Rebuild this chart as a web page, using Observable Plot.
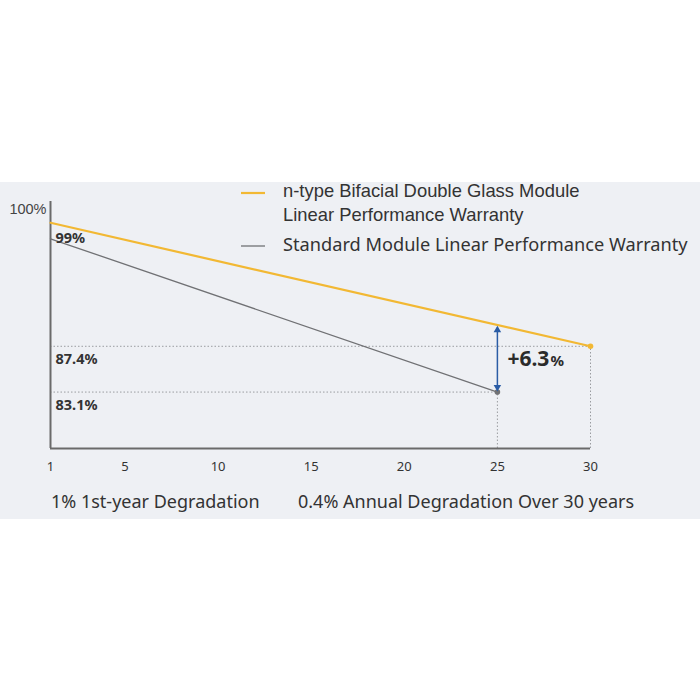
<!DOCTYPE html>
<html>
<head>
<meta charset="utf-8">
<script src="https://cdn.jsdelivr.net/npm/d3@7"></script>
<script src="https://cdn.jsdelivr.net/npm/@observablehq/plot@0.6"></script>
<style>
  html, body { margin: 0; padding: 0; background: #ffffff; width: 700px; height: 700px; overflow: hidden; }
  #chart { position: absolute; left: 0; top: 182px; }
</style>
</head>
<body>
<div id="chart"></div>
<script>
// Warranty curves: year and guaranteed output (% of nominal power)
const bifacialYears = [1, 30];
const bifacialPower = [99, 87.4];
const standardYears = [1, 25];
const standardPower = [97.5, 83.1];

// Bifacial value at year 25 (99% − 24 × 0.4%)
const compareYear = 25;
const bifacialAt25 = 89.4;
const gainLabel = "+6.3";

const xTicks = [1, 5, 10, 15, 20, 25, 30];
const yTicks = [100];

const seriesNames = [
  ["n-type Bifacial Double Glass Module", "Linear Performance Warranty"],
  ["Standard Module Linear Performance Warranty"]
];
const footNotes = ["1% 1st-year Degradation", "0.4% Annual Degradation Over 30 years"];

const yellow = "#f2b833";
const grey = "#707174";
const blue = "#2a5ca5";
const panel = "#eef0f4";

const bifacial = bifacialYears.map((y, i) => ({year: y, power: bifacialPower[i]}));
const standard = standardYears.map((y, i) => ({year: y, power: standardPower[i]}));

const font = "'Noto Sans', sans-serif";
const arial = "'Liberation Sans', Arial, sans-serif";
const guide = {stroke: "#9a9ca0", strokeDasharray: "1.5,2", strokeWidth: 1};

const chart = Plot.plot({
  width: 700,
  height: 337,
  marginLeft: 50,
  marginRight: 110,
  marginTop: 19,
  marginBottom: 71,
  style: {background: panel, fontFamily: font, overflow: "visible"},
  x: {domain: [1, 30], axis: null},
  y: {domain: [77.8, 101], axis: null},
  marks: [
    // dotted guides
    Plot.ruleY([bifacialPower[1]], {x1: 1, x2: 30, ...guide}),
    Plot.ruleY([standardPower[1]], {x1: 1, x2: compareYear, ...guide}),
    Plot.ruleX([compareYear], {y1: 77.8, y2: standardPower[1], ...guide}),
    Plot.ruleX([30], {y1: 77.8, y2: bifacialPower[1], ...guide}),
    // axes
    Plot.ruleX([1], {y1: 77.8, y2: 101, stroke: "#6a6a6a", strokeWidth: 2}),
    Plot.ruleY([77.8], {x1: 1, x2: 30, stroke: "#6a6a6a", strokeWidth: 2}),
    Plot.text(xTicks, {x: d => d, y: 77.8, dy: 18, text: d => String(d), fill: "#333", fontSize: 13, fontFamily: font}),
    Plot.text(yTicks, {x: 1, y: d => d, dx: -4, dy: -3, textAnchor: "end", text: d => d + "%", fill: "#444", fontSize: 14.5, fontFamily: arial}),
    // warranty lines
    Plot.line(standard, {x: "year", y: "power", stroke: grey, strokeWidth: 1.3}),
    Plot.line(bifacial, {x: "year", y: "power", stroke: yellow, strokeWidth: 2.2}),
    Plot.dot([standard[1]], {x: "year", y: "power", r: 2.8, fill: grey}),
    Plot.dot([bifacial[1]], {x: "year", y: "power", r: 2.8, fill: yellow}),
    // value labels
    Plot.text([bifacialPower[0]], {x: 1, y: d => d, dx: 5, dy: 16, textAnchor: "start", text: d => d + "%", fill: "#333", fontWeight: "bold", fontSize: 14.5, fontFamily: font}),
    Plot.text([bifacialPower[1], standardPower[1]], {x: 1, y: d => d, dx: 5, dy: 13, textAnchor: "start", text: d => d + "%", fill: "#333", fontWeight: "bold", fontSize: 14.5, fontFamily: font}),
    // gain arrow: shaft plus two filled heads
    Plot.ruleX([compareYear], {y1: bifacialAt25, y2: standardPower[1], stroke: blue, strokeWidth: 1.5, insetTop: 3, insetBottom: 3}),
    Plot.dot([bifacialAt25], {x: compareYear, y: d => d, dy: 5, symbol: "triangle2", r: 3.6, fill: blue}),
    Plot.dot([standardPower[1]], {x: compareYear, y: d => d, dy: -5, symbol: "triangle2", r: 3.6, rotate: 180, fill: blue}),
    Plot.text([gainLabel], {x: compareYear, y: (bifacialAt25 + standardPower[1]) / 2, dx: 10, dy: 1, textAnchor: "start", text: d => d, fill: "#2b2b2b", fontWeight: "bold", fontSize: 21, fontFamily: font}),
    Plot.text(["%"], {x: compareYear, y: (bifacialAt25 + standardPower[1]) / 2, dx: 53, dy: 3, textAnchor: "start", text: d => d, fill: "#2b2b2b", fontWeight: "bold", fontSize: 15, fontFamily: font})
  ]
});

// Legend and footnotes drawn into the same SVG
const svg = d3.select(chart);
const g = svg.append("g").attr("text-anchor", "start");
g.append("line").attr("x1", 241).attr("x2", 265).attr("y1", 11).attr("y2", 11)
  .attr("stroke", yellow).attr("stroke-width", 2.2);
g.append("line").attr("x1", 241).attr("x2", 265).attr("y1", 64).attr("y2", 64)
  .attr("stroke", grey).attr("stroke-width", 1.3);
g.selectAll("text.l1").data(seriesNames[0]).join("text")
  .attr("x", 283).attr("y", (d, i) => 15 + i * 24)
  .attr("font-family", arial).attr("font-size", 18.4)
  .attr("fill", "#333").text(d => d);
g.append("text").attr("x", 283).attr("y", 69)
  .attr("font-family", font).attr("font-size", 18.2).attr("fill", "#333")
  .text(seriesNames[1][0]);
g.selectAll("text.f").data(footNotes).join("text")
  .attr("x", (d, i) => i === 0 ? 51 : 298).attr("y", 326)
  .attr("font-family", font).attr("font-size", 18).attr("fill", "#333")
  .text(d => d);

document.getElementById("chart").appendChild(chart);
</script>
</body>
</html>
